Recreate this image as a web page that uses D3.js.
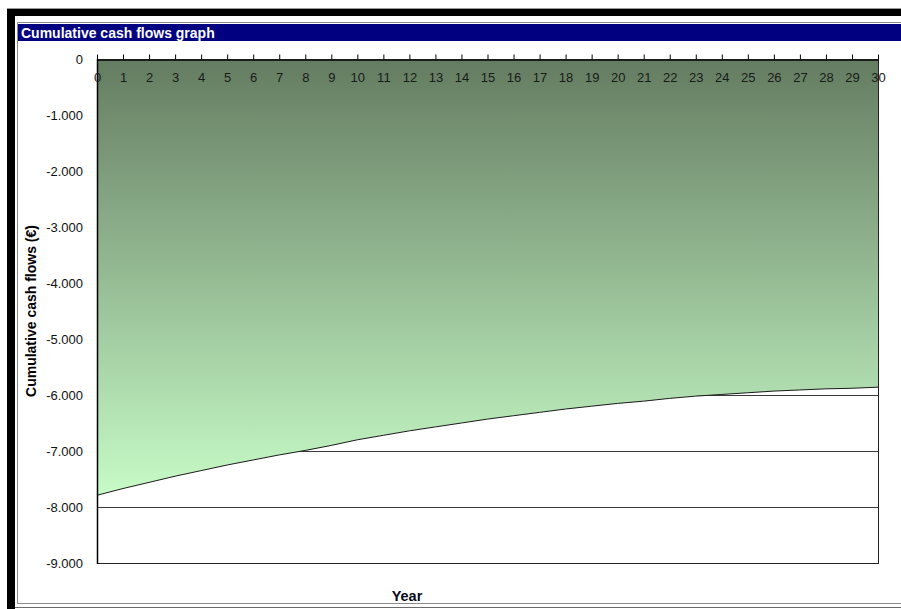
<!DOCTYPE html>
<html>
<head>
<meta charset="utf-8">
<script src="https://cdn.jsdelivr.net/npm/d3@7"></script>
<style>
html,body{margin:0;padding:0;background:#fff;}
svg{display:block;font-family:"Liberation Sans",Arial,sans-serif;}
</style>
</head>
<body>
<svg id="chart" width="901" height="609"></svg>
<script>
const title = "Cumulative cash flows graph";
const yTitle = "Cumulative cash flows (€)";
const xTitle = "Year";
const years = d3.range(0, 31);
const cumulative = [-7790, -7670, -7560, -7450, -7350, -7250, -7160, -7070, -6990, -6900,
  -6800, -6720, -6640, -6570, -6500, -6430, -6370, -6310, -6250, -6200,
  -6150, -6110, -6060, -6020, -5990, -5960, -5930, -5910, -5890, -5880, -5860];
const yTicks = [0, -1000, -2000, -3000, -4000, -5000, -6000, -7000, -8000, -9000];

const svg = d3.select("#chart");

// frame
svg.append("rect").attr("x", 7).attr("y", 9).attr("width", 8).attr("height", 600).attr("fill", "#000");
svg.append("rect").attr("x", 7).attr("y", 9).attr("width", 894).attr("height", 7).attr("fill", "#000");
svg.append("line").attr("x1", 7).attr("x2", 901).attr("y1", 8.5).attr("y2", 8.5).attr("stroke", "#9a9a9a");
svg.append("line").attr("x1", 17.5).attr("x2", 901).attr("y1", 22.5).attr("y2", 22.5).attr("stroke", "#8a8a8a");
svg.append("line").attr("x1", 17.5).attr("x2", 17.5).attr("y1", 22.5).attr("y2", 603.5).attr("stroke", "#8a8a8a");
svg.append("line").attr("x1", 17.5).attr("x2", 901).attr("y1", 603.5).attr("y2", 603.5).attr("stroke", "#8a8a8a");
svg.append("line").attr("x1", 15).attr("x2", 901).attr("y1", 607.5).attr("y2", 607.5).attr("stroke", "#6a6a6a");

// title bar
svg.append("rect").attr("x", 18).attr("y", 24).attr("width", 883).attr("height", 17).attr("fill", "#000080");
svg.append("text").attr("x", 21).attr("y", 37.5).attr("fill", "#fff")
  .attr("font-weight", "bold").attr("font-size", 14).text(title);

const x = d3.scaleLinear().domain([0, 30]).range([97, 878]);
const y = d3.scaleLinear().domain([0, -9000]).range([59, 563]);

// gridlines
svg.append("g").selectAll("line").data(yTicks.filter(d => d < 0)).join("line")
  .attr("x1", x(0)).attr("x2", x(30))
  .attr("y1", d => Math.round(y(d)) + 0.5).attr("y2", d => Math.round(y(d)) + 0.5)
  .attr("stroke", "#3a3a3a").attr("stroke-width", 1);

// gradient
const defs = svg.append("defs");
const grad = defs.append("linearGradient").attr("id", "g1")
  .attr("gradientUnits", "userSpaceOnUse")
  .attr("x1", 0).attr("x2", 0).attr("y1", y(0)).attr("y2", y(d3.min(cumulative)));
grad.append("stop").attr("offset", "0%").attr("stop-color", "#647c61");
grad.append("stop").attr("offset", "100%").attr("stop-color", "#c7fbc7");

const data = years.map((yr, i) => ({yr, v: cumulative[i]}));
const area = d3.area().x(d => x(d.yr)).y0(y(0)).y1(d => y(d.v));
svg.append("path").datum(data).attr("d", area).attr("fill", "url(#g1)");
const line = d3.line().x(d => x(d.yr)).y(d => y(d.v));
svg.append("path").datum(data).attr("d", line).attr("fill", "none")
  .attr("stroke", "#1a1a1a").attr("stroke-width", 1);

// plot border right/bottom
svg.append("line").attr("x1", x(30) + 0.5).attr("x2", x(30) + 0.5).attr("y1", y(0)).attr("y2", y(-9000) + 0.5)
  .attr("stroke", "#222");
svg.append("line").attr("x1", x(0)).attr("x2", x(30) + 1).attr("y1", y(-9000) + 0.5).attr("y2", y(-9000) + 0.5)
  .attr("stroke", "#222");

// y axis line
svg.append("line").attr("x1", x(0) + 0.5).attr("x2", x(0) + 0.5).attr("y1", y(0)).attr("y2", y(-9000) + 1)
  .attr("stroke", "#000").attr("stroke-width", 1.5);

// x axis at top with ticks upward and labels inside
const xAxis = d3.axisTop(x).tickValues(years).tickSize(5).tickSizeOuter(0).tickFormat(d3.format("d"));
const gx = svg.append("g").attr("transform", `translate(0,${y(0) + 0.5})`).call(xAxis);
gx.select(".domain").attr("stroke", "#000").attr("stroke-width", 1.5);
gx.selectAll(".tick line").attr("stroke", "#000");
gx.selectAll(".tick text").attr("y", 22).attr("dy", 0).attr("fill", "#1a1a1a")
  .attr("font-size", 13).attr("font-family", "Liberation Sans, Arial, sans-serif");

// y axis labels
const loc = d3.formatLocale({decimal: ",", thousands: ".", grouping: [3], currency: ["", "€"], minus: "-"});
const fmt = loc.format(",d");
const yAxis = d3.axisLeft(y).tickValues(yTicks).tickSize(0).tickPadding(14).tickFormat(fmt);
const gy = svg.append("g").attr("transform", `translate(${x(0)},0)`).call(yAxis);
gy.select(".domain").remove();
gy.selectAll(".tick text").attr("fill", "#111").attr("font-size", 13)
  .attr("font-family", "Liberation Sans, Arial, sans-serif");

// axis titles
svg.append("text").attr("transform", `translate(35.5,${(y(0) + y(-9000)) / 2}) rotate(-90)`)
  .attr("text-anchor", "middle").attr("font-weight", "bold").attr("font-size", 14)
  .attr("fill", "#000").text(yTitle);
svg.append("text").attr("x", 407).attr("y", 601).attr("text-anchor", "middle")
  .attr("font-weight", "bold").attr("font-size", 14.5).attr("fill", "#0a0a1a").text(xTitle);
</script>
</body>
</html>
